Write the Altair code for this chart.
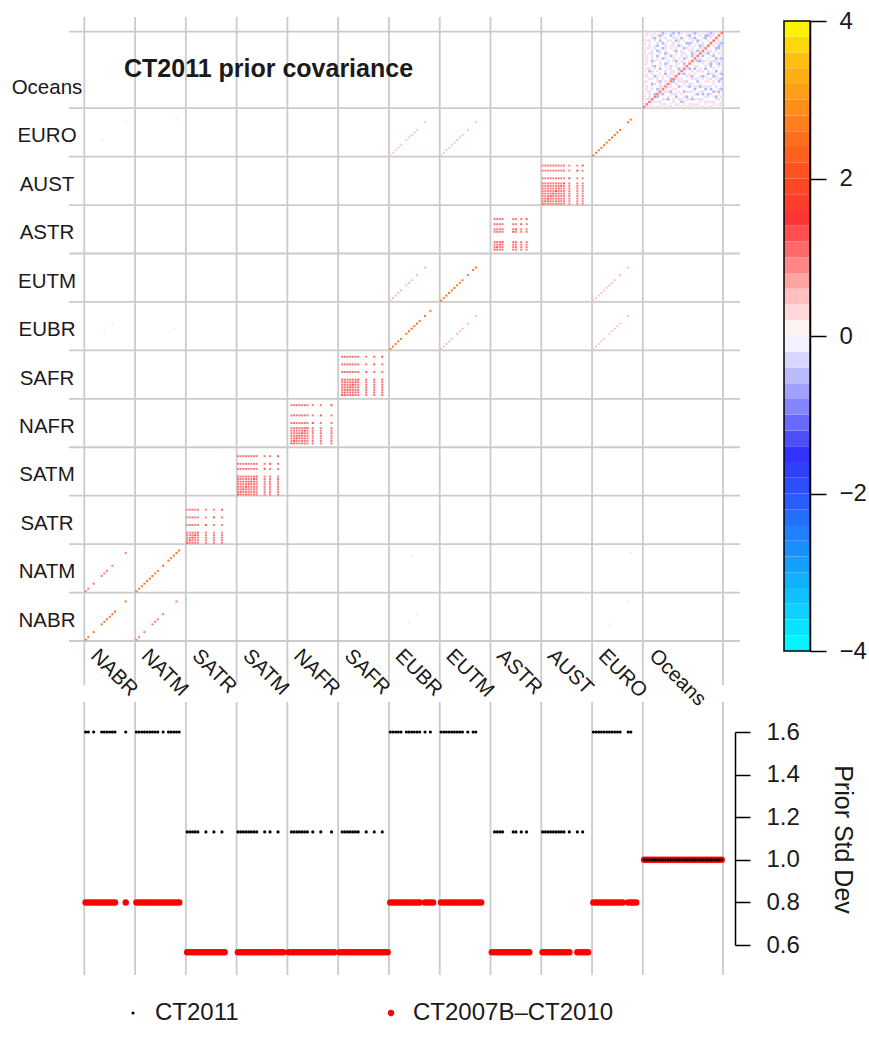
import altair as alt
import pandas as pd

FONT = "Liberation Sans"
TXT = "#1a1a1a"

# ---------------- data ----------------
REGIONS = ["NABR", "NATM", "SATR", "SATM", "NAFR", "SAFR",
           "EUBR", "EUTM", "ASTR", "AUST", "EURO", "Oceans"]
N_SLOTS = [19, 19, 19, 19, 19, 19, 19, 19, 19, 19, 19, 30]

# ecosystems present per region (CT2011, black dots / matrix structure)
ECO_CT2011 = {
    "NABR": [0, 1, 3, 6, 7, 8, 9, 10, 11, 15],
    "NATM": [0, 1, 2, 3, 4, 5, 6, 7, 8, 10, 12, 13, 14, 15, 16],
    "SATR": [0, 1, 2, 3, 4, 7, 10, 13],
    "SATM": [0, 1, 2, 3, 4, 5, 6, 7, 10, 12, 15],
    "NAFR": [1, 2, 3, 4, 5, 6, 7, 9, 12, 16],
    "SAFR": [1, 2, 3, 4, 5, 6, 7, 10, 13, 16],
    "EUBR": [0, 1, 2, 3, 4, 6, 7, 8, 9, 10, 11, 13, 15],
    "EUTM": [0, 1, 2, 3, 4, 5, 6, 7, 8, 10, 12, 13],
    "ASTR": [1, 2, 3, 4, 8, 9, 11, 13],
    "AUST": [0, 1, 2, 3, 4, 5, 6, 7, 8, 10, 13, 15],
    "EURO": [0, 1, 2, 3, 4, 5, 6, 7, 8, 9, 10, 13, 14],
    "Oceans": list(range(30)),
}
# ecosystems present per region (CT2007B-CT2010, red dots)
ECO_CT2007B = {
    "NABR": [0, 1, 2, 3, 4, 5, 6, 7, 8, 9, 10, 11, 15],
    "NATM": [0, 1, 2, 3, 4, 5, 6, 7, 8, 9, 10, 11, 12, 13, 14, 15, 16],
    "SATR": [0, 1, 2, 3, 4, 5, 6, 7, 8, 9, 10, 11, 12, 13, 14],
    "SATM": [0, 1, 2, 3, 4, 5, 6, 7, 8, 9, 10, 11, 12, 13, 14, 15, 16, 17],
    "NAFR": [0, 1, 2, 3, 4, 5, 6, 7, 8, 9, 10, 11, 12, 13, 14, 15, 16, 17],
    "SAFR": [0, 1, 2, 3, 4, 5, 6, 7, 8, 9, 10, 11, 12, 13, 14, 15, 16, 17, 18],
    "EUBR": [0, 1, 2, 3, 4, 5, 6, 7, 8, 9, 10, 11, 13, 14, 15, 16],
    "EUTM": [0, 1, 2, 3, 4, 5, 6, 7, 8, 9, 10, 11, 12, 13, 14, 15],
    "ASTR": [0, 1, 2, 3, 4, 5, 6, 7, 8, 9, 10, 11, 12, 13, 14],
    "AUST": [0, 1, 2, 3, 4, 5, 6, 7, 8, 9, 10, 13, 14, 15, 16, 17],
    "EURO": [0, 1, 2, 3, 4, 5, 6, 7, 8, 9, 10, 11, 13, 14, 15, 16],
    "Oceans": list(range(30)),
}

STD_CT2011 = [1.6, 1.6, 1.131, 1.131, 1.131, 1.131, 1.6, 1.6, 1.131, 1.131, 1.6, 1.0]
STD_CT2007B = [0.8, 0.8, 0.566, 0.566, 0.566, 0.566, 0.8, 0.8, 0.566, 0.566, 0.8, 1.0]

# prior covariance: diagonal variance and within-region covariance
PRIOR_VAR = [2.56, 2.56, 1.28, 1.28, 1.28, 1.28, 2.56, 2.56, 1.28, 1.28, 2.56, 1.0]
WITHIN_COV = [0, 0, 0.95, 1.0, 1.0, 1.05, 0, 0, 1.0, 0.95, 0, 0]
# covariance between matching ecosystems of two regions
CROSS_COV = [("NABR", "NATM", 1.0), ("EUBR", "EUTM", 0.55),
             ("EUBR", "EURO", 0.45), ("EUTM", "EURO", 0.5)]
FAINT_COV = [("NABR", 7, "EUBR", 7, 0.2), ("NABR", 10, "EUBR", 10, 0.2),
             ("NABR", 6, "EURO", 6, 0.2), ("NABR", 15, "EURO", 13, 0.2),
             ("NATM", 15, "EURO", 14, 0.2), ("NATM", 14, "EUBR", 8, 0.2)]

# ocean block, lower triangle (row i, columns 0..i-1)
OCEAN_CODES = {".": 0.0, "p": 0.25, "P": 0.5, "b": -0.22, "B": -0.55}
OCEAN_LOWER = [
    "",
    "b",
    "p.",
    ".pb",
    "p.b.",
    "b.p.B",
    ".pb..p",
    "pp.b.Bb",
    ".b.p..bp",
    "p..Bb.p.b",
    "bp...pB.bp",
    "..bp.b.p..B",
    "pb..Bb.p.b.p",
    ".p.b..p.B.bp.",
    "p.Bb.p..b.pb.b",
    ".pb.p.B..pb..Bp",
    "p..bB.p.b.P.b..b",
    "bp.p..b.Bb..pp.B.",
    ".p.Bb.p..b.pB.b..p",
    "pp.b.p.Bb..b.p.Bb.p",
    ".b.p.B..p.Bb..p.b.Bp",
    "p.pb..b.Bp..b.pb..Bb.",
    "b..p.Bb.p..pB.b..pb.Bp",
    ".pp.b..Bb.p.b..Bb.p..bp",
    "p.b.pB..b.pp.Bb..b.p.Bb",
    "b.p..b.Bp..b.p..BBb.p.b.",
    ".pb.p.B..bp.Bb.p..b.Bp..p",
    "p..bB.p.b..pb.B..pbB..bB.p",
    ".p.b.pBb..Bb.p..bB.p.b.BBbp",
    "pbp.b..Bb.bB.Bb.p.bBb.p.bBb.p",
]

COLOR_DOMAIN = [-4, -3.5, -3, -2.5, -2, -1.5, -1, -0.5, 0,
                0.5, 1, 1.5, 2, 2.5, 3, 3.5, 4]
COLOR_RANGE = ["#00FFFF", "#10D0FF", "#12A8FF", "#2080FF", "#2A55FF", "#3333FF",
               "#7777FF", "#BBBBFF", "#FFFFFF", "#FFC0C0", "#FF7777", "#FF3535",
               "#FF4A22", "#FF6E1E", "#FF961C", "#FFBE10", "#FFFF00"]
CB_TICKS = [-4, -2, 0, 2, 4]
SD_TICKS = [0.6, 0.8, 1.0, 1.2, 1.4, 1.6]
TITLE = "CT2011 prior covariance"
LEGEND_LABELS = ["CT2011", "CT2007B\u2013CT2010"]

# ---------------- tables ----------------
START = {}
s = 0
for r, n in zip(REGIONS, N_SLOTS):
    START[r] = s
    s += n
TOTAL = s
BOUNDS = [START[r] for r in REGIONS] + [TOTAL]

LAND_INSET = 0.12  # land cells drawn as separate dots
cells = []
for k, r in enumerate(REGIONS[:11]):
    P = ECO_CT2011[r]
    for i in P:
        for j in P:
            if i == j:
                v = PRIOR_VAR[k]
            elif WITHIN_COV[k]:
                v = WITHIN_COV[k]
            else:
                continue
            cells.append((START[r] + j, START[r] + i, v, LAND_INSET))
for a, b, v in CROSS_COV:
    for e in sorted(set(ECO_CT2011[a]) & set(ECO_CT2011[b])):
        cells.append((START[a] + e, START[b] + e, v, LAND_INSET))
        cells.append((START[b] + e, START[a] + e, v, LAND_INSET))
for a, ea, b, eb, v in FAINT_COV:
    cells.append((START[a] + ea, START[b] + eb, v, LAND_INSET))
    cells.append((START[b] + eb, START[a] + ea, v, LAND_INSET))
o = START["Oceans"]
for i in range(30):
    cells.append((o + i, o + i, PRIOR_VAR[11], 0.0))
    row = OCEAN_LOWER[i].ljust(i, ".")[:i]
    for j, ch in enumerate(row):
        v = OCEAN_CODES[ch]
        if v != 0:
            cells.append((o + j, o + i, v, 0.0))
            cells.append((o + i, o + j, v, 0.0))
cell_df = pd.DataFrame(cells, columns=["col", "row", "v", "inset"])
cell_df["x0"] = cell_df["col"] + cell_df["inset"]
cell_df["x1"] = cell_df["col"] + 1 - cell_df["inset"]
cell_df["y0"] = cell_df["row"] + cell_df["inset"]
cell_df["y1"] = cell_df["row"] + 1 - cell_df["inset"]

bounds_df = pd.DataFrame({"b": BOUNDS})
lab_df = pd.DataFrame({
    "name": REGIONS,
    "ypos": [START[r] + 9.5 for r in REGIONS],
    "xpos": [START[r] + 2.0 for r in REGIONS],
})

pts = []
for k, r in enumerate(REGIONS):
    for e in ECO_CT2011[r]:
        pts.append(("CT2011", START[r] + e + 0.5, STD_CT2011[k]))
    for e in ECO_CT2007B[r]:
        pts.append(("CT2007B", START[r] + e + 0.5, STD_CT2007B[k]))
pts_df = pd.DataFrame(pts, columns=["series", "x", "sd"])

CB_STEP = 0.2
cb_lo = [-4 + CB_STEP * i for i in range(int(round(8 / CB_STEP)))]
cb_df = pd.DataFrame({"lo": cb_lo, "hi": [v + CB_STEP for v in cb_lo],
                      "mid": [v + CB_STEP / 2 for v in cb_lo]})
cb_border = pd.DataFrame({"lo": [-4], "hi": [4]})

# ---------------- scales ----------------
X_SCALE = alt.Scale(domain=[0, TOTAL], range=[84.3, 723.0], nice=False, zero=False)
YM_SCALE = alt.Scale(domain=[0, TOTAL], range=[641.0, 31.7], nice=False, zero=False)
YB_SCALE = alt.Scale(domain=[0.6, 1.6], range=[945.0, 732.0], nice=False, zero=False)
CB_Y = alt.Scale(domain=[-4, 4], range=[651.0, 21.0], nice=False, zero=False)
COLOR = alt.Scale(domain=COLOR_DOMAIN, range=COLOR_RANGE, clamp=True, interpolate="rgb")

GRID = dict(color="#CBCBCB", strokeWidth=1.8)

vgrid_top = alt.Chart(bounds_df).mark_rule(**GRID).encode(
    x=alt.X("b:Q", scale=X_SCALE, axis=None), y=alt.value(17), y2=alt.value(685))
vgrid_bot = alt.Chart(bounds_df).mark_rule(**GRID).encode(
    x=alt.X("b:Q", scale=X_SCALE, axis=None), y=alt.value(702), y2=alt.value(975))
hgrid = alt.Chart(bounds_df).mark_rule(**GRID).encode(
    y=alt.Y("b:Q", scale=YM_SCALE, axis=None), x=alt.value(69), x2=alt.value(740))

matrix = alt.Chart(cell_df).mark_rect(strokeWidth=0).encode(
    x=alt.X("x0:Q", scale=X_SCALE, axis=None), x2="x1:Q",
    y=alt.Y("y0:Q", scale=YM_SCALE, axis=None), y2="y1:Q",
    color=alt.Color("v:Q", scale=COLOR, legend=None),
)

ylabels = alt.Chart(lab_df).mark_text(
    align="center", baseline="middle", dy=4, fontSize=20.5, font=FONT, color=TXT
).encode(x=alt.value(47), y=alt.Y("ypos:Q", scale=YM_SCALE, axis=None), text="name:N")

xlabels = alt.Chart(lab_df).mark_text(
    align="left", baseline="alphabetic", angle=45, fontSize=20.5, font=FONT, color=TXT
).encode(x=alt.X("xpos:Q", scale=X_SCALE, axis=None), y=alt.value(657), text="name:N")

title = alt.Chart(pd.DataFrame({"t": [TITLE]})).mark_text(
    align="left", baseline="alphabetic", fontSize=25, fontWeight="bold", font=FONT,
    color=TXT, x=124, y=77
).encode(text="t:N")

red_pts = alt.Chart(pts_df[pts_df.series == "CT2007B"]).mark_circle(
    size=42, color="#FF0000", opacity=1
).encode(x=alt.X("x:Q", scale=X_SCALE, axis=None),
         y=alt.Y("sd:Q", scale=YB_SCALE, axis=None))

black_pts = alt.Chart(pts_df[pts_df.series == "CT2011"]).mark_circle(
    size=10, color="black", opacity=1
).encode(
    x=alt.X("x:Q", scale=X_SCALE, axis=None),
    y=alt.Y("sd:Q", scale=YB_SCALE, axis=alt.Axis(
        orient="right", offset=-134, values=SD_TICKS, format=".1f",
        tickSize=15, tickWidth=1.5, tickColor="black", domainColor="black",
        domainWidth=1.5, labelFontSize=24, labelFont=FONT, labelColor=TXT,
        labelPadding=16, labelFlush=False, labelOverlap=False, grid=False,
        title="Prior Std Dev", titleFontSize=25, titleFont=FONT,
        titleFontWeight="normal", titleColor=TXT, titleAngle=90,
        titleX=107, titleY=839, titleAlign="center", titleBaseline="middle")),
)

cbar = alt.Chart(cb_df).mark_rect(strokeWidth=0).encode(
    x=alt.value(784), x2=alt.value(810),
    y=alt.Y("lo:Q", scale=CB_Y, axis=alt.Axis(
        orient="right", offset=-59, values=CB_TICKS, format="d",
        tickSize=16, tickWidth=1.5, tickColor="black", domainColor="black",
        domainWidth=1.5, labelFontSize=24, labelFont=FONT, labelColor=TXT,
        labelPadding=13, labelFlush=False, labelOverlap=False, grid=False, title=None)),
    y2="hi:Q",
    color=alt.Color("mid:Q", scale=COLOR, legend=None),
)
cbar_border = alt.Chart(cb_border).mark_rect(
    fill=None, stroke="black", strokeWidth=1.5
).encode(x=alt.value(784), x2=alt.value(810),
         y=alt.Y("lo:Q", scale=CB_Y, axis=None), y2="hi:Q")

leg_dot1 = alt.Chart(pd.DataFrame({"t": [LEGEND_LABELS[0]]})).mark_circle(
    size=10, color="black", opacity=1, x=133, y=1013).encode()
leg_dot2 = alt.Chart(pd.DataFrame({"t": [LEGEND_LABELS[1]]})).mark_circle(
    size=40, color="#FF0000", opacity=1, x=391, y=1013).encode()
leg_txt1 = alt.Chart(pd.DataFrame({"t": [LEGEND_LABELS[0]]})).mark_text(
    align="left", baseline="middle", fontSize=24, font=FONT, color=TXT, x=155, y=1013
).encode(text="t:N")
leg_txt2 = alt.Chart(pd.DataFrame({"t": [LEGEND_LABELS[1]]})).mark_text(
    align="left", baseline="middle", fontSize=24, font=FONT, color=TXT, x=413, y=1013
).encode(text="t:N")

chart = alt.layer(
    vgrid_top, vgrid_bot, hgrid, matrix, ylabels, xlabels, title,
    red_pts, black_pts, cbar, cbar_border,
    leg_dot1, leg_dot2, leg_txt1, leg_txt2,
).resolve_scale(
    x="independent", y="independent"
).properties(
    width=869, height=1049, autosize="none", padding=0, background="white"
).configure_view(stroke=None)

chart.save("out.html", embed_options={"renderer": "svg", "actions": False})
